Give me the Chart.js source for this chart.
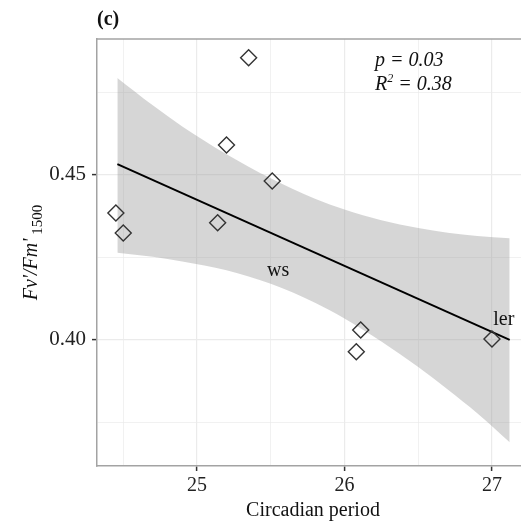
<!DOCTYPE html>
<html>
<head>
<meta charset="utf-8">
<script src="https://cdn.jsdelivr.net/npm/chart.js@4"></script>
<style>
  html, body { margin: 0; padding: 0; overflow: hidden; background: #fff; }
  #wrap { width: 540px; height: 525px; }
</style>
</head>
<body>
<div id="wrap"><canvas id="myChart" width="540" height="525"></canvas></div>
<script>
// measured points (circadian period vs Fv'/Fm' at 1500)
const periodX = [25.35, 25.20, 24.45, 24.50, 25.14, 25.51, 26.11, 26.08, 27.00];
const fvfmY  = [0.4855, 0.4591, 0.4385, 0.4324, 0.4355, 0.4482, 0.4030, 0.3964, 0.4003];

// fitted line ends
const fitX = [24.46, 27.12];
const fitY = [0.4533, 0.4000];

// confidence band
const bandX     = [24.46, 24.70, 24.90, 25.20, 25.50, 25.80, 26.00, 26.25, 26.50, 26.70, 26.90, 27.12];
const bandUpper = [0.4794, 0.4711, 0.4647, 0.4563, 0.4490, 0.4428, 0.4395, 0.4363, 0.4339, 0.4325, 0.4315, 0.4308];
const bandLower = [0.4264, 0.4252, 0.4238, 0.4211, 0.4170, 0.4113, 0.4065, 0.3995, 0.3918, 0.3850, 0.3778, 0.3690];

// point labels
const labelText = ["ws", "ler"];
const labelX = [25.55, 27.08];
const labelY = [0.4211, 0.4062];

// axes
const xGridValues = [24.5, 25, 25.5, 26, 26.5, 27];
const xTickLabels = ["", "25", "", "26", "", "27"];
const yGridValues = [0.375, 0.40, 0.425, 0.45, 0.475];
const yTickLabels = ["", "0.40", "", "0.45", ""];

const serif = "'Liberation Serif', 'DejaVu Serif', serif";
const borderGrey = "#a3a3a3";

function toXY(xs, ys) {
    return xs.map((x, i) => ({ x: x, y: ys[i] }));
}

const textPlugin = {
    id: "texts",
    afterDraw(chart) {
        const ctx = chart.ctx;
        const area = chart.chartArea;
        const xs = chart.scales.x, ys = chart.scales.y;
        ctx.save();

        // top border of the panel
        ctx.strokeStyle = borderGrey;
        ctx.lineWidth = 1.5;
        ctx.beginPath();
        ctx.moveTo(area.left, area.top);
        ctx.lineTo(area.right, area.top);
        ctx.stroke();

        ctx.fillStyle = "#111";

        // panel tag
        ctx.font = "bold 20px " + serif;
        ctx.textAlign = "left";
        ctx.textBaseline = "alphabetic";
        ctx.fillText("(c)", area.left, 25);

        // stats
        ctx.font = "italic 20px " + serif;
        ctx.fillText("p = 0.03", 375, 66);
        ctx.fillText("R", 375, 90);
        let w = ctx.measureText("R").width;
        ctx.font = "italic 12px " + serif;
        ctx.fillText("2", 375 + w, 82);
        let w2 = ctx.measureText("2").width;
        ctx.font = "italic 20px " + serif;
        ctx.fillText(" = 0.38", 375 + w + w2, 90);

        // point labels
        ctx.font = "20px " + serif;
        ctx.textAlign = "center";
        ctx.textBaseline = "middle";
        labelText.forEach((t, i) => {
            ctx.fillText(t, xs.getPixelForValue(labelX[i]), ys.getPixelForValue(labelY[i]));
        });

        // y axis title with subscript
        ctx.textAlign = "left";
        ctx.textBaseline = "alphabetic";
        ctx.font = "italic 20px " + serif;
        const main = "Fv'/Fm'";
        const mw = ctx.measureText(main).width;
        ctx.font = "15px " + serif;
        const sub = " 1500";
        const sw = ctx.measureText(sub).width;
        const total = mw + sw;
        const cy = (area.top + area.bottom) / 2;
        ctx.translate(37, cy + total / 2);
        ctx.rotate(-Math.PI / 2);
        ctx.font = "italic 20px " + serif;
        ctx.fillText(main, 0, 0);
        ctx.font = "15px " + serif;
        ctx.fillText(sub, mw, 5);

        ctx.restore();
    }
};

const chart = new Chart("myChart", {
    type: "scatter",
    data: {
        datasets: [
            {
                data: toXY(periodX, fvfmY),
                pointStyle: "rectRot",
                pointRadius: 8,
                pointBorderWidth: 1.4,
                pointBorderColor: "#333",
                pointBackgroundColor: "rgba(0,0,0,0)",
                order: 0
            },
            {
                data: toXY(fitX, fitY),
                showLine: true,
                borderColor: "#000",
                borderWidth: 2,
                pointRadius: 0,
                order: 1
            },
            {
                data: toXY(bandX, bandUpper),
                showLine: true,
                borderWidth: 0,
                borderColor: "rgba(0,0,0,0)",
                backgroundColor: "rgba(153,153,153,0.4)",
                pointRadius: 0,
                cubicInterpolationMode: "monotone",
                fill: "+1",
                order: 2
            },
            {
                data: toXY(bandX, bandLower),
                showLine: true,
                borderWidth: 0,
                borderColor: "rgba(0,0,0,0)",
                pointRadius: 0,
                cubicInterpolationMode: "monotone",
                fill: false,
                order: 3
            }
        ]
    },
    options: {
        responsive: false,
        animation: false,
        devicePixelRatio: 1,
        layout: { padding: { top: 39, right: 11, left: 0, bottom: 0 } },
        plugins: {
            legend: { display: false },
            tooltip: { enabled: false }
        },
        scales: {
            x: {
                type: "linear",
                min: 24.322,
                max: 27.251,
                afterBuildTicks: s => { s.ticks = xGridValues.map(v => ({ value: v })); },
                afterFit: s => { s.height = 59; },
                ticks: {
                    callback: (v, i) => xTickLabels[i],
                    font: { family: serif, size: 20 },
                    color: "#222",
                    padding: 3,
                    maxRotation: 0,
                    autoSkip: false
                },
                grid: {
                    color: "#ebebeb",
                    lineWidth: c => xTickLabels[c.index] ? 1.2 : 0.7,
                    tickColor: c => xTickLabels[c.index] ? "#333" : "rgba(0,0,0,0)",
                    tickLength: 5,
                    tickWidth: 1.5
                },
                border: { color: borderGrey, width: 1.5 },
                title: {
                    display: true,
                    text: "Circadian period",
                    font: { family: serif, size: 20 },
                    color: "#111",
                    padding: { top: 0, bottom: 2 }
                }
            },
            y: {
                type: "linear",
                min: 0.3618,
                max: 0.4912,
                afterBuildTicks: s => { s.ticks = yGridValues.map(v => ({ value: v })); },
                afterFit: s => { s.width = 97; },
                ticks: {
                    callback: (v, i) => yTickLabels[i],
                    font: { family: serif, size: 21 },
                    color: "#222",
                    padding: 6,
                    autoSkip: false
                },
                grid: {
                    color: "#ebebeb",
                    lineWidth: c => yTickLabels[c.index] ? 1.2 : 0.7,
                    tickColor: c => yTickLabels[c.index] ? "#333" : "rgba(0,0,0,0)",
                    tickLength: 5,
                    tickWidth: 1.5
                },
                border: { color: borderGrey, width: 1.5 }
            }
        }
    },
    plugins: [textPlugin]
});
</script>
</body>
</html>
